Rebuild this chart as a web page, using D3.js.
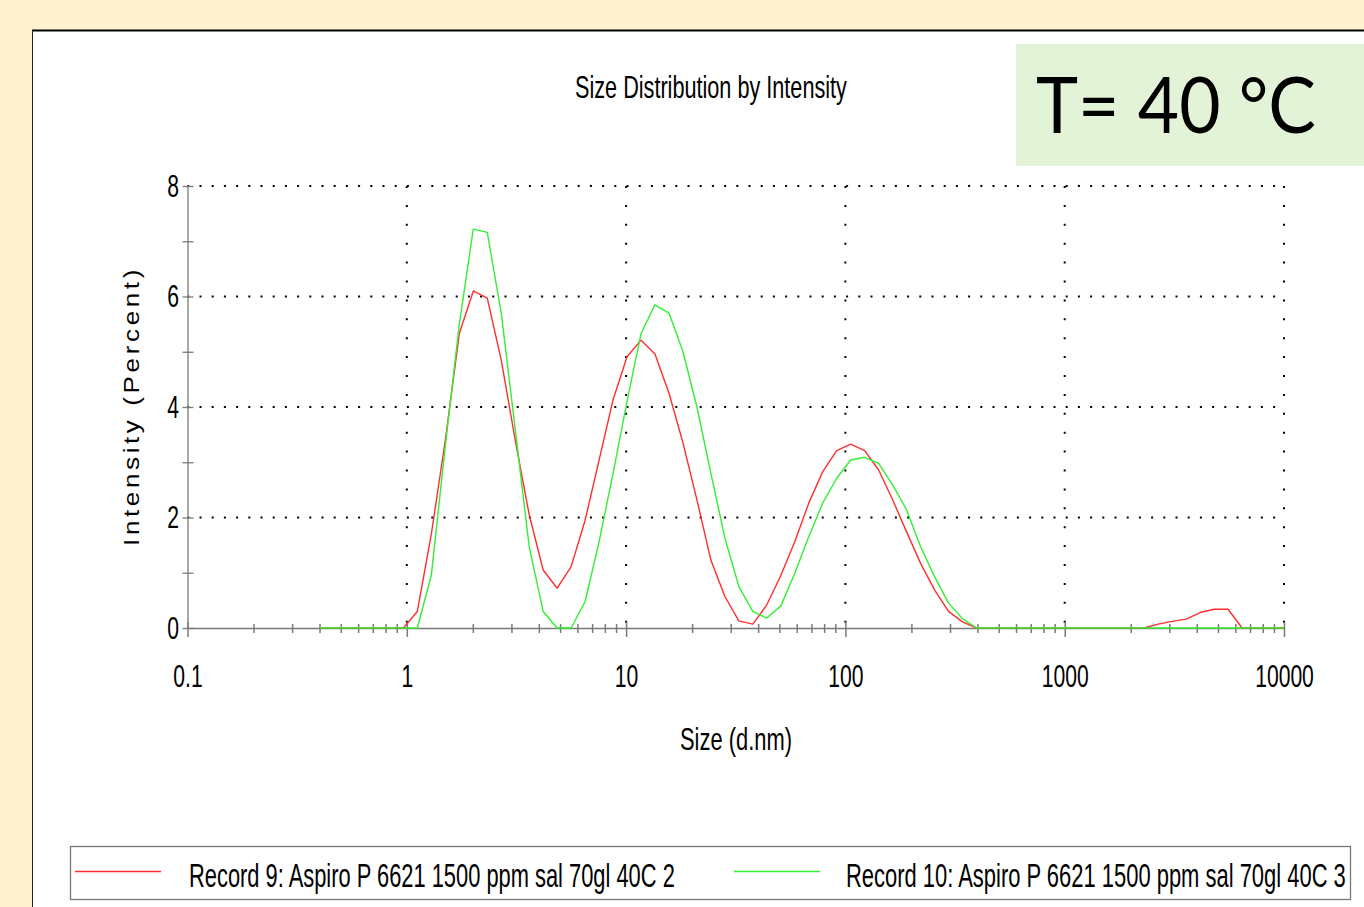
<!DOCTYPE html>
<html><head><meta charset="utf-8">
<script src="https://cdn.jsdelivr.net/npm/d3@7"></script>
<style>body{margin:0;background:#FFF0CE;overflow:hidden} svg{display:block}</style>
</head><body><svg id="c" width="1364" height="907"></svg>
<script>
// ---- data ----
const sizes = [0.4,0.4632,0.5365,0.6213,0.7195,0.8332,0.9649,1.117,1.294,1.499,1.736,2.01,2.328,2.696,3.122,3.615,4.187,4.849,5.615,6.503,7.531,8.721,10.1,11.7,13.54,15.69,18.17,21.04,24.36,28.21,32.67,37.84,43.82,50.75,58.77,68.06,78.82,91.28,105.7,122.4,141.8,164.2,190.1,220.2,255.0,295.3,342.0,396.1,458.7,531.2,615.1,712.4,825.0,955.4,1106,1281,1484,1718,1990,2305,2669,3091,3580,4145,4801,5560,6439,7456,8635,10000];
const record9 = [0,0,0,0,0,0,0,0.3,1.7,3.4,5.33,6.1,5.97,4.85,3.4,2.05,1.05,0.72,1.11,1.95,3.04,4.13,4.91,5.21,4.96,4.25,3.35,2.32,1.23,0.57,0.13,0.07,0.42,0.95,1.56,2.26,2.83,3.21,3.33,3.21,2.86,2.32,1.74,1.17,0.69,0.3,0.11,0,0,0,0,0,0,0,0,0,0,0,0,0,0.07,0.12,0.16,0.28,0.34,0.34,0,0,0,0];
const record10 = [0,0,0,0,0,0,0,0,0.96,3.3,5.5,7.22,7.16,5.7,3.6,1.47,0.3,0,0,0.48,1.56,2.8,4.1,5.33,5.85,5.7,5.0,4.0,2.8,1.63,0.75,0.3,0.18,0.4,0.99,1.65,2.26,2.71,3.04,3.09,2.98,2.59,2.14,1.47,0.93,0.45,0.17,0,0,0,0,0,0,0,0,0,0,0,0,0,0,0,0,0,0,0,0,0,0,0];
const seriesNames = ["Record 9: Aspiro P 6621 1500 ppm sal 70gl 40C 2","Record 10: Aspiro P 6621 1500 ppm sal 70gl 40C 3"];
const xTickValues = [0.1,1,10,100,1000,10000];
const xTickLabels = ["0.1","1","10","100","1000","10000"];
const yTickValues = [0,2,4,6,8];
const yTickLabels = ["0","2","4","6","8"];
const titleText = "Size Distribution by Intensity";
const xLabel = "Size (d.nm)";
const yLabel = "Intensity (Percent)";
const badgeText = "T= 40 °C";

// ---- drawing ----
const svg = d3.select("#c");
const FONT = "'Liberation Sans', Arial, sans-serif";
const x = d3.scaleLog().domain([0.1, 10000]).range([187.5, 1284]);
const y = d3.scaleLinear().domain([0, 8]).range([628, 186]);

// text squeezed horizontally to a given width (mimics the stretched screenshot)
function fitText(parent, str, tx, ty, width, size, family) {
  const g = parent.append("g");
  const t = g.append("text").attr("x",0).attr("y",0).attr("font-family",family).attr("font-size",size)
    .attr("fill","#000").text(str);
  const w = t.node().getComputedTextLength();
  g.attr("transform",`translate(${tx},${ty}) scale(${width/w},1)`);
  return g;
}

// background panel
svg.append("rect").attr("x",0).attr("y",0).attr("width",1364).attr("height",907).attr("fill","#FFF0CE");
svg.append("rect").attr("x",32).attr("y",30).attr("width",1340).attr("height",890).attr("fill","#fff");
svg.append("line").attr("x1",32).attr("x2",1364).attr("y1",30.5).attr("y2",30.5).attr("stroke","#000").attr("stroke-width",2);
svg.append("line").attr("x1",32.5).attr("x2",32.5).attr("y1",30).attr("y2",907).attr("stroke","#222").attr("stroke-width",1);

// badge
svg.append("rect").attr("x",1016).attr("y",44).attr("width",348).attr("height",122).attr("fill","#E3F3D8");
fitText(svg, badgeText, 1036, 133, 280, 77, "Lato, 'Open Sans', sans-serif");

// title
fitText(svg, titleText, 575, 98, 272, 32, FONT);

// grid (dotted)
const grid = svg.append("g");
grid.selectAll("line.h").data(yTickValues.filter(d=>d>0)).join("line")
  .attr("x1",x(0.1)).attr("x2",x(10000)).attr("y1",d=>y(d)).attr("y2",d=>y(d))
  .attr("stroke","#000").attr("stroke-width",2).attr("stroke-dasharray","2 10.2").attr("stroke-dashoffset",0.2);
grid.selectAll("line.v").data(xTickValues.filter(d=>d>0.1)).join("line")
  .attr("x1",d=>x(d)).attr("x2",d=>x(d)).attr("y1",y(8)).attr("y2",y(0))
  .attr("stroke","#000").attr("stroke-width",2).attr("stroke-dasharray","2 16.9");

// axes
const AX = "#7a7a7a";
const gx = svg.append("g").attr("transform",`translate(0,${y(0)})`)
  .call(d3.axisBottom(x).tickValues(xTickValues).tickFormat((d,i)=>xTickLabels[i]).tickSizeOuter(0));
gx.attr("font-family",FONT).attr("font-size",32);
gx.select(".domain").attr("stroke",AX).attr("stroke-width",1.3);
gx.selectAll(".tick line").attr("y1",-6).attr("y2",9).attr("stroke",AX).attr("stroke-width",1.5);
gx.selectAll(".tick text").attr("y",59).attr("dy",0).attr("fill","#000").attr("transform","scale(0.66,1)");

const minorX = x.ticks().filter(d => Math.abs(Math.log10(d) - Math.round(Math.log10(d))) > 1e-6);
const gxm = svg.append("g").attr("transform",`translate(0,${y(0)})`)
  .call(d3.axisBottom(x).tickValues(minorX).tickFormat(()=>"").tickSizeOuter(0));
gxm.select(".domain").remove();
gxm.selectAll(".tick line").attr("y1",-4).attr("y2",5).attr("stroke",AX).attr("stroke-width",1.5);

const gy = svg.append("g").attr("transform",`translate(${x(0.1)},0)`)
  .call(d3.axisLeft(y).tickValues(yTickValues).tickFormat((d,i)=>yTickLabels[i]).tickSizeOuter(0));
gy.attr("font-family",FONT).attr("font-size",32);
gy.select(".domain").attr("stroke",AX).attr("stroke-width",1.3);
gy.selectAll(".tick line").attr("x1",-5).attr("x2",6).attr("stroke",AX).attr("stroke-width",1.3);
gy.selectAll(".tick text").attr("x",-8.5/0.66).attr("fill","#000").attr("transform","scale(0.66,1)");

const gym = svg.append("g").attr("transform",`translate(${x(0.1)},0)`)
  .call(d3.axisLeft(y).tickValues(y.ticks(8).filter(d=>d%2===1)).tickFormat(()=>"").tickSizeOuter(0));
gym.select(".domain").remove();
gym.selectAll(".tick line").attr("x1",-5).attr("x2",6).attr("stroke",AX).attr("stroke-width",1.3);

// axis labels
fitText(svg, xLabel, 680, 750, 112, 32, FONT);
{
  const g = svg.append("g");
  const t = g.append("text").attr("x",0).attr("y",0).attr("text-anchor","middle")
    .attr("font-family",FONT).attr("font-size",22).attr("letter-spacing",3).attr("fill","#000").text(yLabel);
  const w = t.node().getComputedTextLength();
  g.attr("transform",`translate(139,406) rotate(-90) scale(${280/w},1)`);
}

// series lines
const colors = ["#ff2e2e","#33ee33"];
const series = [record9, record10];
const line = d3.line().x(d=>x(d[0])).y(d=>y(d[1]));
series.forEach((vals,i)=>{
  svg.append("path").datum(sizes.map((s,j)=>[s,vals[j]]))
    .attr("d",line).attr("fill","none").attr("stroke",colors[i]).attr("stroke-width",1.4)
    .attr("stroke-linejoin","round");
});

// legend
const lg = svg.append("g");
lg.append("rect").attr("x",70.5).attr("y",846.5).attr("width",1280).attr("height",53).attr("fill","#fff")
  .attr("stroke","#777").attr("stroke-width",1.3);
const legendItems = [
  {lx:75, tx:189, tl:486},
  {lx:734, tx:846, tl:500}
];
legendItems.forEach((it,i)=>{
  lg.append("line").attr("x1",it.lx).attr("x2",it.lx+86).attr("y1",871.5).attr("y2",871.5)
    .attr("stroke",colors[i]).attr("stroke-width",1.4);
  fitText(lg, seriesNames[i], it.tx, 887, it.tl, 33, FONT);
});
</script></body></html>
